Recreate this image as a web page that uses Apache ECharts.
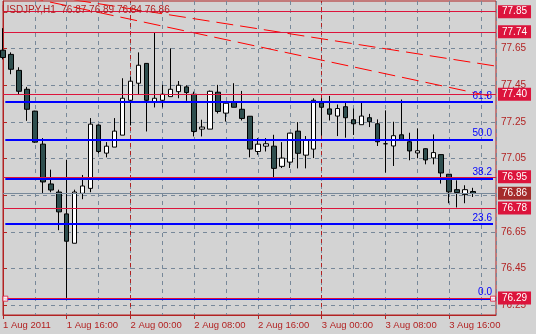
<!DOCTYPE html>
<html><head><meta charset="utf-8">
<script src="https://cdn.jsdelivr.net/npm/echarts@6/dist/echarts.min.js"></script>
<style>html,body{margin:0;padding:0;background:#d3d3d3;}#c{width:536px;height:334px;}</style>
</head><body><div id="c"></div>
<script>
// ---- data ----
const symbolName = 'USDJPY,H1';
const barIndex = [0,1,2,3,4,5,6,7,8,9,10,11,12,13,14,15,16,17,18,19,20,21,22,23,24,25,26,27,28,29,30,31,32,33,34,35,36,37,38,39,40,41,42,43,44,45,46,47,48,49,50,51,52,53,54,55,56,57,58,59];
const opens  = [77.640,77.617,77.530,77.427,77.308,77.128,76.911,76.867,76.748,76.588,76.860,76.887,77.232,77.079,77.112,77.177,77.367,77.460,77.568,77.357,77.367,77.387,77.414,77.440,77.400,77.210,77.210,77.411,77.297,77.357,77.318,77.280,77.088,77.117,77.117,77.007,77.030,77.199,77.068,77.101,77.353,77.320,77.281,77.332,77.261,77.234,77.272,77.239,77.130,77.118,77.179,77.141,77.080,77.103,77.053,77.071,76.964,76.880,76.853,76.870];
const closes = [77.600,77.536,77.416,77.318,77.139,76.922,76.878,76.759,76.599,76.867,76.900,77.237,77.088,77.117,77.199,77.378,77.471,77.558,77.367,77.378,77.400,77.427,77.449,77.409,77.197,77.221,77.416,77.306,77.351,77.329,77.268,77.101,77.128,77.130,76.996,77.052,77.188,77.078,77.150,77.367,77.329,77.291,77.322,77.272,77.239,77.281,77.250,77.141,77.130,77.174,77.152,77.091,77.092,77.042,77.082,76.971,76.868,76.864,76.880,76.860];
const lows   = [77.590,77.509,77.396,77.255,77.135,76.862,76.866,76.659,76.290,76.588,76.828,76.866,77.078,77.056,77.112,77.177,77.230,77.396,77.197,77.328,77.328,77.387,77.378,77.364,77.170,77.170,77.210,77.295,77.251,77.329,77.257,77.056,77.070,77.088,76.943,76.998,76.998,76.996,76.996,77.052,77.175,77.257,77.172,77.163,77.178,77.234,77.221,77.118,76.973,77.009,77.152,77.040,77.051,77.018,77.018,76.913,76.806,76.783,76.806,76.840];
const highs  = [77.760,77.628,77.547,77.440,77.310,77.161,76.989,76.880,77.043,76.880,76.960,77.270,77.235,77.139,77.270,77.487,77.496,77.628,77.570,77.739,77.451,77.650,77.472,77.449,77.414,77.261,77.420,77.451,77.355,77.460,77.418,77.280,77.161,77.161,77.179,77.139,77.190,77.248,77.172,77.378,77.378,77.391,77.344,77.353,77.322,77.357,77.293,77.263,77.312,77.250,77.371,77.190,77.214,77.105,77.181,77.072,76.965,76.931,76.904,76.890];

const xTickValues = [0,8,16,24,32,40,48,56];
const xTickLabels = ['1 Aug 2011','1 Aug 16:00','2 Aug 00:00','2 Aug 08:00','2 Aug 16:00','3 Aug 00:00','3 Aug 08:00','3 Aug 16:00'];
const daySeparators = [16, 40];
const yTickValues = [76.25,76.45,76.65,76.85,77.05,77.25,77.45,77.65,77.85];

const levelPrices = [77.85,77.74,77.40,76.95,76.78,76.29];
const bidPrice = 76.86;
const fibRatios = ['0.0','23.6','38.2','50.0','61.8'];
const fibPrices = [76.286,76.693,76.941,77.152,77.359];
const fibSpan = [0.29, 61.5];
const trendA = [[0,77.975],[61.75,77.554]];
const trendB = [[0,77.957],[61.75,77.384]];

// ---- styles ----
const FONT = 'Liberation Sans';
const FG = '#b22222';
const GRID = '#778899';
const last = barIndex.length - 1;
const title = symbolName + '  ' + [opens[last], highs[last], lows[last], closes[last]].map(v => v.toFixed(2)).join(' ');

const chart = echarts.init(document.getElementById('c'), null, {renderer: 'canvas'});

chart.setOption({
  animation: false,
  backgroundColor: '#d3d3d3',
  title: {text: title, left: 2, top: 5, padding: 0,
    textStyle: {color: FG, fontSize: 10, fontWeight: 'normal', fontFamily: FONT}},
  grid: {left: 1, right: 40, top: 1, bottom: 19, show: true, borderColor: FG, borderWidth: 1, backgroundColor: 'transparent'},
  xAxis: [
    {type: 'value', min: 0, max: 61.875, interval: 4, position: 'bottom',
     axisLine: {show: true, lineStyle: {color: FG}}, axisTick: {show: false}, axisLabel: {show: false},
     splitLine: {show: true, lineStyle: {color: GRID, type: [4, 4], width: 1}}},
    {type: 'value', min: 0, max: 61.875, position: 'bottom',
     axisLine: {show: false}, splitLine: {show: false},
     axisTick: {show: true, customValues: xTickValues, length: 4, lineStyle: {color: FG}},
     axisLabel: {show: true, customValues: xTickValues, align: 'left', margin: 5, color: FG, fontSize: 9.5, fontFamily: FONT,
       formatter: v => { const k = xTickValues.indexOf(v); return k >= 0 ? xTickLabels[k] : ''; }}}
  ],
  yAxis: {type: 'value', position: 'right', min: 76.197, max: 77.908, scale: true,
    axisLine: {show: true, lineStyle: {color: FG}},
    axisTick: {show: true, customValues: yTickValues, length: 4, inside: false, lineStyle: {color: FG}},
    axisLabel: {show: true, customValues: yTickValues, margin: 5, color: FG, fontSize: 10, fontFamily: FONT,
      formatter: v => v.toFixed(2)},
    splitLine: {show: true, lineStyle: {color: GRID, type: [4, 4], width: 1}}},
  series: [
    {type: 'candlestick', name: 'price', xAxisIndex: 0,
     data: barIndex.map(i => [i, opens[i], closes[i], lows[i], highs[i]]),
     barWidth: 5,
     itemStyle: {color: '#ffffff', color0: '#2f4f4f', borderColor: '#000000', borderColor0: '#000000', borderWidth: 1},
     markLine: {symbol: 'none', silent: true, z: 1, label: {show: false},
       lineStyle: {color: FG, width: 1, type: [4, 4]},
       data: daySeparators.map(d => ({xAxis: d}))}},
    {type: 'line', name: 'trendA', data: trendA, symbol: 'none', clip: true, z: 3,
     lineStyle: {color: '#ff0000', width: 1, type: [17, 7]},
     markLine: {symbol: 'none', silent: true, z: 6,
       data: levelPrices.map(p => ({yAxis: p,
         lineStyle: {color: '#dc143c', width: 1, type: 'solid'},
         label: {show: true, position: 'end', distance: 2, formatter: () => p.toFixed(2),
           color: '#ffffff', backgroundColor: '#dc143c', padding: [2, 4, 1, 4], fontSize: 10, fontFamily: FONT}}))
       .concat([{yAxis: bidPrice,
         lineStyle: {color: GRID, width: 1, type: 'solid'},
         label: {show: true, position: 'end', distance: 2, formatter: () => bidPrice.toFixed(2),
           color: '#ffffff', backgroundColor: '#a52a2a', padding: [2, 4, 1, 4], fontSize: 10, fontFamily: FONT}}])}},
    {type: 'line', name: 'trendB', data: trendB, symbol: 'none', clip: true, z: 3,
     lineStyle: {color: '#ff0000', width: 1, type: [17, 7]},
     markLine: {symbol: 'none', silent: true, z: 5,
       data: fibPrices.map((p, k) => [
         {coord: [fibSpan[0], p], lineStyle: {color: '#0000ff', width: 2, type: 'solid'},
          label: {show: true, position: 'insideEndTop', distance: 1, formatter: () => fibRatios[k],
            color: '#0000ff', fontSize: 10, fontFamily: FONT}},
         {coord: [fibSpan[1], p]}])}},
    {type: 'scatter', name: 'anchors', data: [[fibSpan[0], fibPrices[0]], [fibSpan[1], fibPrices[0]]],
     symbol: 'rect', symbolSize: 5, z: 10, clip: false,
     itemStyle: {color: '#ffffff', borderColor: '#dc143c', borderWidth: 1}}
  ]
});
</script></body></html>
